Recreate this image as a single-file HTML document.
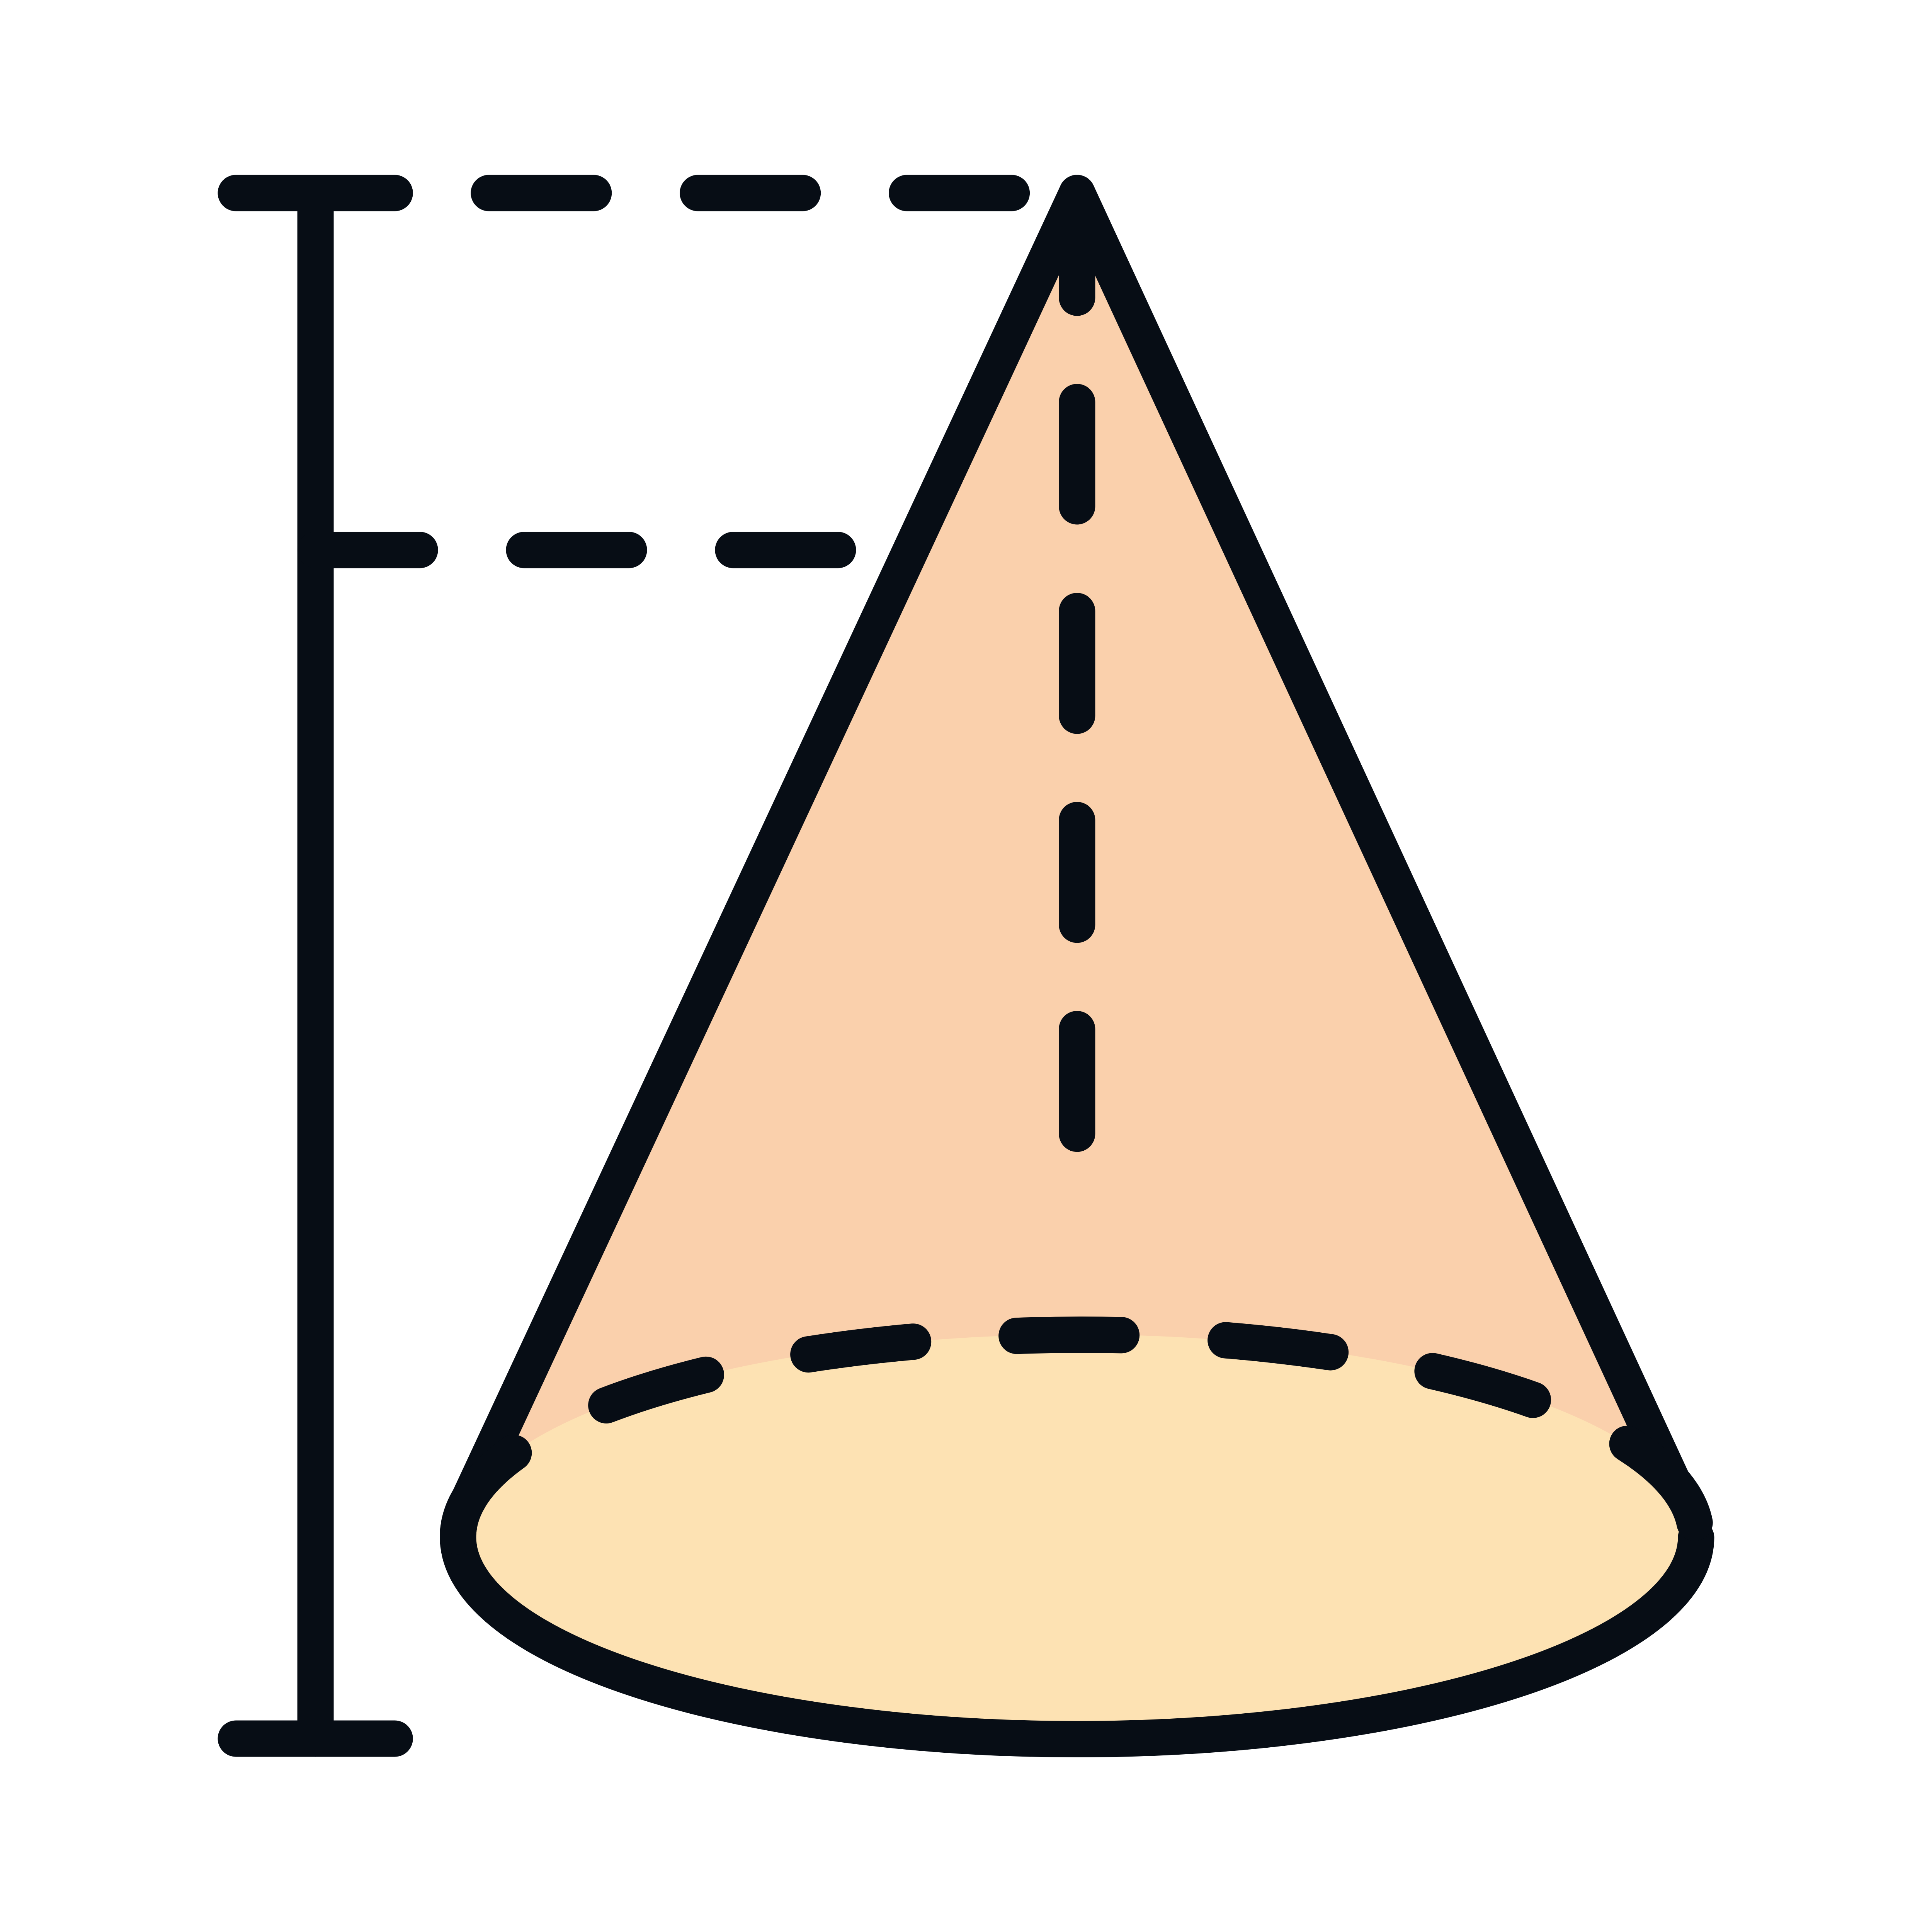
<!DOCTYPE html>
<html lang="en">
<head>
<meta charset="utf-8">
<title>Cone height icon</title>
<style>
html,body{margin:0;padding:0;background:#fff;width:100%;height:100%;overflow:hidden}
svg{display:block;width:100vw;height:100vh}
</style>
</head>
<body>
<svg xmlns="http://www.w3.org/2000/svg" viewBox="0 0 5315 5315" preserveAspectRatio="xMidYMid meet">
  <rect width="5315" height="5315" fill="#ffffff"/>
  <path d="M2963 531 L1298 4110 L1298 4300 L4601 4300 L4601 4074 Z" fill="#FAD0AC"/>
  <ellipse cx="2963" cy="4227" rx="1703" ry="556" fill="#FDE2B3"/>
  <g fill="none" stroke="#070D15" stroke-width="100" stroke-linecap="round" stroke-linejoin="round">
    <path d="M4666 4230 A1703 556 0 0 1 1260 4227 A1703 556 0 0 1 1291 4122 L2963 531"/>
    <path d="M2963 531 L4601 4074"/>
    <g>
      <path d="M1260 4227 A1703 556 0 0 1 1413 3997"/>
      <path d="M1668 3866 A1703 556 0 0 1 1942 3782"/>
      <path d="M2224 3726 A1703 556 0 0 1 2512 3691"/>
      <path d="M2797 3675 A1703 556 0 0 1 3085 3673"/>
      <path d="M3372 3687 A1703 556 0 0 1 3660 3720"/>
      <path d="M3941 3772 A1703 556 0 0 1 4217 3851"/>
      <path d="M4477 3972 A1703 556 0 0 1 4662 4189"/>
    </g>
    <g>
      <path d="M2963 531 V819"/>
      <path d="M2963 1106 V1393"/>
      <path d="M2963 1681 V1969"/>
      <path d="M2963 2256 V2544"/>
      <path d="M2963 2831 V3119"/>
    </g>
    <g>
      <path d="M868 531 V4783"/>
      <path d="M649 531 H1086"/>
      <path d="M649 4783 H1086"/>
    </g>
    <g>
      <path d="M1345 531 H1633"/>
      <path d="M1920 531 H2208"/>
      <path d="M2495 531 H2783"/>
    </g>
    <g>
      <path d="M868 1513 H1155"/>
      <path d="M1442 1513 H1730"/>
      <path d="M2017 1513 H2305"/>
    </g>
  </g>
</svg>
</body>
</html>
